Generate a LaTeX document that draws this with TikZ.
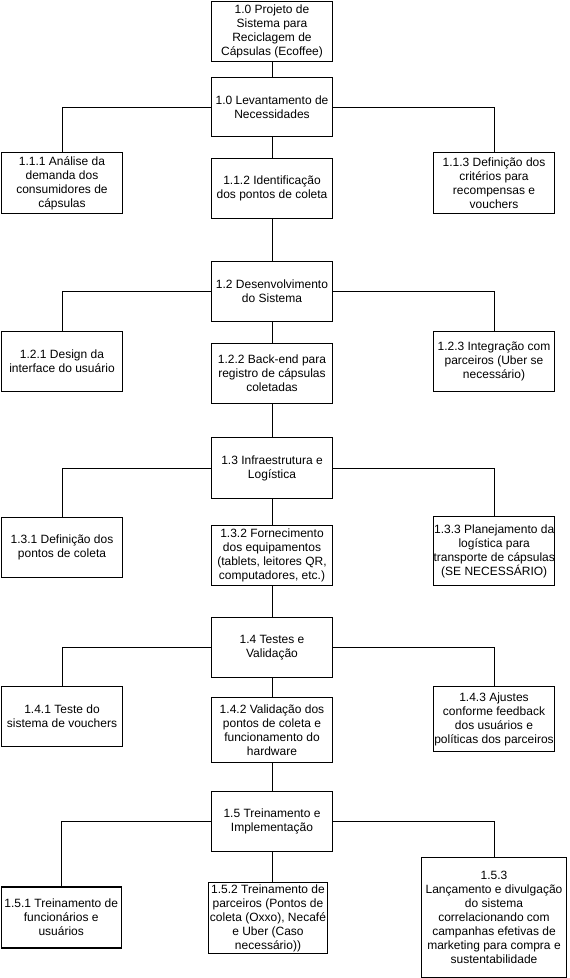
\documentclass[tikz,border=0pt]{standalone}
\usepackage{fontspec}
\setmainfont{Liberation Sans}
\begin{document}
\begin{tikzpicture}[x=1pt,y=-1pt,
  wbs/.style={draw=black, line width=1pt, fill=white, anchor=north west,
    align=center, inner xsep=0pt, inner ysep=2pt,
    font=\fontsize{12pt}{14pt}\selectfont, text=black},
  link/.style={draw=black, line width=1pt}]
\useasboundingbox (0,0) rectangle (570,978);

% work breakdown boxes
\node[wbs, minimum width=121, minimum height=60] (root) at (211,1)
  {1.0 Projeto de\\Sistema para\\Reciclagem de\\Cápsulas (Ecoffee)};

\node[wbs, minimum width=121, minimum height=59] (lev) at (211,77)
  {1.0 Levantamento de\\Necessidades};
\node[wbs, minimum width=121, minimum height=61] (a1) at (1,152)
  {1.1.1 Análise da\\demanda dos\\consumidores de\\cápsulas};
\node[wbs, minimum width=121, minimum height=60] (a2) at (211,158)
  {1.1.2 Identificação\\dos pontos de coleta};
\node[wbs, minimum width=121, minimum height=61] (a3) at (433,152)
  {1.1.3 Definição dos\\critérios para\\recompensas e\\vouchers};

\node[wbs, minimum width=121, minimum height=60] (dev) at (211,261)
  {1.2 Desenvolvimento\\do Sistema};
\node[wbs, minimum width=121, minimum height=60] (b1) at (1,331)
  {1.2.1 Design da\\interface do usuário};
\node[wbs, minimum width=121, minimum height=60] (b2) at (211,343)
  {1.2.2 Back-end para\\registro de cápsulas\\coletadas};
\node[wbs, minimum width=121, minimum height=60] (b3) at (433,331)
  {1.2.3 Integração com\\parceiros (Uber se\\necessário)};

\node[wbs, minimum width=121, minimum height=61] (inf) at (211,437)
  {1.3 Infraestrutura e\\Logística};
\node[wbs, minimum width=121, minimum height=60] (c1) at (1,517)
  {1.3.1 Definição dos\\pontos de coleta};
\node[wbs, minimum width=121, minimum height=60] (c2) at (211,525)
  {1.3.2 Fornecimento\\dos equipamentos\\(tablets, leitores QR,\\computadores, etc.)};
\node[wbs, minimum width=121, minimum height=69] (c3) at (433,516)
  {1.3.3 Planejamento da\\logística para\\transporte de cápsulas\\(SE NECESSÁRIO)};

\node[wbs, minimum width=121, minimum height=60] (tst) at (211,617)
  {1.4 Testes e\\Validação};
\node[wbs, minimum width=121, minimum height=60] (d1) at (1,686)
  {1.4.1 Teste do\\sistema de vouchers};
\node[wbs, minimum width=121, minimum height=65] (d2) at (211,697)
  {1.4.2 Validação dos\\pontos de coleta e\\funcionamento do\\hardware};
\node[wbs, minimum width=121, minimum height=65] (d3) at (433,686)
  {1.4.3 Ajustes\\conforme feedback\\dos usuários e\\políticas dos parceiros};

\node[wbs, minimum width=121, minimum height=60] (trn) at (211,791)
  {1.5 Treinamento e\\Implementação};
\node[wbs, line width=1.5pt, minimum width=120, minimum height=61] (e1) at (0.5,886)
  {1.5.1 Treinamento de\\funcionários e\\usuários};
\node[wbs, minimum width=119, minimum height=70] (e2) at (208,882)
  {1.5.2 Treinamento de\\parceiros (Pontos de\\coleta (Oxxo), Necafé\\e Uber (Caso\\necessário))};
\node[wbs, minimum width=145, minimum height=120] (e3) at (421,857)
  {1.5.3\\Lançamento e divulgação\\do sistema\\correlacionando com\\campanhas efetivas de\\marketing para compra e\\sustentabilidade};

% spine
\draw[link] (root) -- (lev);
\draw[link] (lev) -- (a2);
\draw[link] (a2) -- (dev);
\draw[link] (dev) -- (b2);
\draw[link] (b2) -- (inf);
\draw[link] (inf) -- (c2);
\draw[link] (c2) -- (tst);
\draw[link] (tst) -- (d2);
\draw[link] (d2) -- (trn);
\draw[link] (trn.south) -- (trn.south |- e2.north);

% side branches
\foreach \p/\l/\r in {lev/a1/a3, dev/b1/b3, inf/c1/c3, tst/d1/d3, trn/e1/e3} {
  \draw[link] (\p.west) -| (\l.north);
  \draw[link] (\p.east) -| (\r.north);
}
\end{tikzpicture}
\end{document}
